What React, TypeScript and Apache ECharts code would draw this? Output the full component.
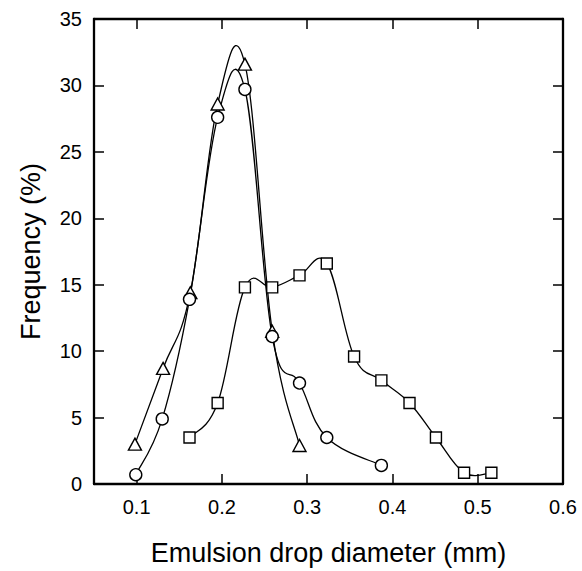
import React, { useEffect, useRef } from "react";
import * as echarts from "echarts";

// Circles
const circleX = [0.099, 0.130, 0.162, 0.195, 0.227, 0.259, 0.291, 0.323, 0.387];
const circleY = [0.7, 4.9, 13.9, 27.6, 29.7, 11.1, 7.6, 3.5, 1.4];
// Triangles
const triX = [0.098, 0.131, 0.163, 0.195, 0.227, 0.259, 0.291];
const triY = [3.0, 8.7, 14.4, 28.6, 31.6, 11.5, 2.9];
// Squares
const sqX = [0.162, 0.195, 0.227, 0.259, 0.291, 0.323, 0.355, 0.387, 0.420, 0.451, 0.484, 0.516];
const sqY = [3.5, 6.1, 14.8, 14.8, 15.7, 16.6, 9.6, 7.8, 6.1, 3.5, 0.85, 0.85];

const xTicks = [0.1, 0.2, 0.3, 0.4, 0.5, 0.6];

const FONT = "'Liberation Sans', Arial, Helvetica, sans-serif";

function pairs(xs: number[], ys: number[]) {
  return xs.map((x, i) => [x, ys[i]]);
}

function curveSeries(xs: number[], ys: number[]) {
  const n = xs.length;
  return {
    type: "custom",
    z: 1,
    silent: true,
    data: pairs(xs, ys),
    encode: { x: 0, y: 1 },
    renderItem: (params: any, api: any) => {
      const i = params.dataIndex;
      if (i >= n - 1) return null;
      const c = (k: number) => {
        const j = Math.max(0, Math.min(n - 1, k));
        return api.coord([xs[j], ys[j]]);
      };
      const p0 = c(i - 1);
      const p1 = c(i);
      const p2 = c(i + 1);
      const p3 = c(i + 2);
      const t = 0.19;
      return {
        type: "bezierCurve",
        shape: {
          x1: p1[0],
          y1: p1[1],
          x2: p2[0],
          y2: p2[1],
          cpx1: p1[0] + (p2[0] - p0[0]) * t,
          cpy1: p1[1] + (p2[1] - p0[1]) * t,
          cpx2: p2[0] - (p3[0] - p1[0]) * t,
          cpy2: p2[1] - (p3[1] - p1[1]) * t,
        },
        style: { stroke: "#000", fill: "none", lineWidth: 1.3 },
      };
    },
  };
}

function markerSeries(xs: number[], ys: number[], symbol: string, size: any, z: number) {
  return {
    type: "scatter",
    z,
    symbol,
    symbolSize: size,
    data: pairs(xs, ys),
    itemStyle: { color: "#fff", borderColor: "#000", borderWidth: 1.4, opacity: 1 },
    emphasis: { disabled: true },
  };
}

export default function App() {
  const ref = useRef<HTMLDivElement>(null);
  useEffect(() => {
    if (!ref.current) return;
    const chart = echarts.init(ref.current, null, { renderer: "svg" });
    const axisLine = { show: true, onZero: false, lineStyle: { color: "#000", width: 2.3 } };
    chart.setOption({
      animation: false,
      backgroundColor: "#fff",
      grid: { left: 94, right: 19, top: 19, bottom: 83, containLabel: false },
      xAxis: [
        {
          type: "value",
          min: 0.05,
          max: 0.6,
          position: "bottom",
          axisLine,
          splitLine: { show: false },
          axisTick: {
            show: true,
            inside: true,
            length: 10,
            customValues: xTicks,
            lineStyle: { color: "#000", width: 1.5 },
          },
          axisLabel: {
            show: true,
            customValues: xTicks,
            margin: 13,
            color: "#000",
            fontSize: 20,
            fontFamily: FONT,
            formatter: (v: number) => v.toFixed(1),
          },
          name: "Emulsion drop diameter (mm)",
          nameLocation: "middle",
          nameGap: 55,
          nameTextStyle: { color: "#000", fontSize: 27, fontFamily: FONT },
        },
        {
          type: "value",
          min: 0.05,
          max: 0.6,
          position: "top",
          axisLine,
          splitLine: { show: false },
          axisTick: {
            show: true,
            inside: true,
            length: 10,
            customValues: xTicks,
            lineStyle: { color: "#000", width: 1.5 },
          },
          axisLabel: { show: false },
        },
      ],
      yAxis: [
        {
          type: "value",
          min: 0,
          max: 35,
          interval: 5,
          position: "left",
          axisLine,
          splitLine: { show: false },
          axisTick: { show: true, inside: true, length: 10, lineStyle: { color: "#000", width: 1.5 } },
          axisLabel: { margin: 12, color: "#000", fontSize: 20, fontFamily: FONT },
          name: "Frequency (%)",
          nameLocation: "middle",
          nameGap: 50,
          nameTextStyle: { color: "#000", fontSize: 27, fontFamily: FONT },
        },
        {
          type: "value",
          min: 0,
          max: 35,
          interval: 5,
          position: "right",
          axisLine,
          splitLine: { show: false },
          axisTick: { show: true, inside: true, length: 10, lineStyle: { color: "#000", width: 1.5 } },
          axisLabel: { show: false },
        },
      ],
      series: [
        curveSeries(circleX, circleY),
        curveSeries(triX, triY),
        curveSeries(sqX, sqY),
        markerSeries(sqX, sqY, "rect", 11, 3),
        markerSeries(triX, triY, "triangle", [13, 12], 3),
        markerSeries(circleX, circleY, "circle", 12, 4),
      ],
    });
    return () => chart.dispose();
  }, []);
  return (
    <div
      ref={ref}
      style={{ position: "fixed", left: 0, top: 0, width: 582, height: 571, background: "#fff" }}
    />
  );
}
